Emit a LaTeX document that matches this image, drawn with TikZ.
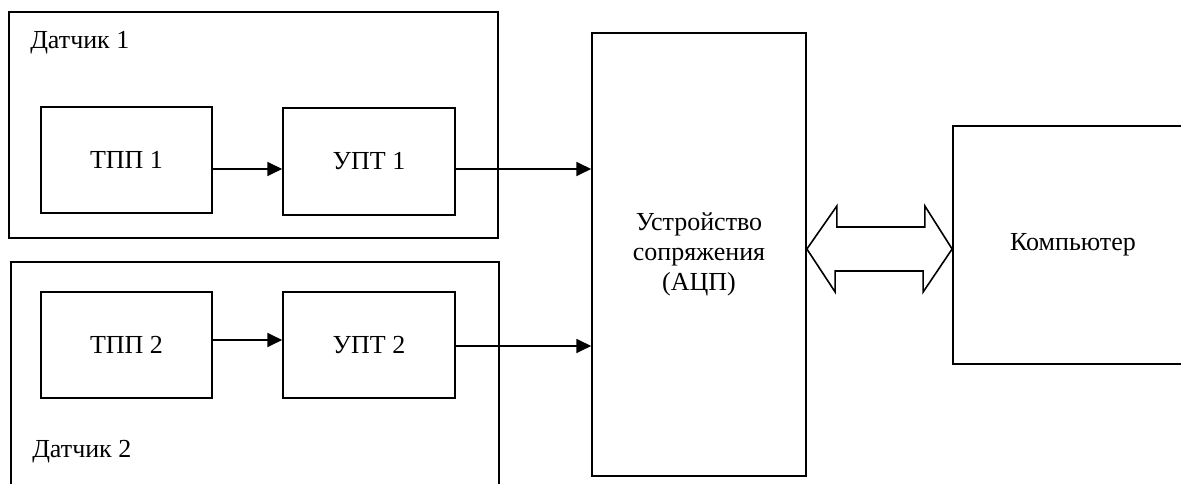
\documentclass[tikz,border=0pt]{standalone}
\usepackage{fontspec}
\setmainfont{Liberation Serif}
\usetikzlibrary{arrows.meta}

\begin{document}
\begin{tikzpicture}[x=0.75pt,y=0.75pt,yscale=-1,xscale=1,
  every node/.style={font=\fontsize{19.5}{22.5}\selectfont},
  grp/.style={draw,line width=1pt,inner sep=0pt},
  blk/.style={draw,line width=1.3pt,inner sep=0pt,align=center},
  sig/.style={line width=1pt,-{Triangle[length=11pt,width=10.5pt]}},
  lbl/.style={anchor=base west,inner sep=0pt}]
\useasboundingbox (0,0) rectangle (1181,484);
\clip (0,0) rectangle (1181,484);

%Shape: Rectangle -- sensor groups
\node[grp,minimum width=366.75pt,minimum height=169.5pt] (grp1) at (253.5,125) {};
\node[grp,minimum width=366pt,minimum height=193.5pt] (grp2) at (255,391) {};

% Text Node
\node[lbl] (lbl1) at (30,49) {Датчик 1};
% Text Node
\node[lbl] (lbl2) at (32,457) {Датчик 2};

%Shape: Rectangle -- converters and amplifiers
\node[blk,minimum width=128.25pt,minimum height=79.5pt] (tpp1) at (126.5,160) {ТПП 1};
\node[blk,minimum width=129pt,minimum height=80.25pt] (upt1) at (369,161.5) {УПТ 1};
\node[blk,minimum width=128.25pt,minimum height=79.5pt] (tpp2) at (126.5,345) {ТПП 2};
\node[blk,minimum width=129pt,minimum height=79.5pt] (upt2) at (369,345) {УПТ 2};

%Shape: Rectangle -- interface unit
\node[blk,minimum width=160.5pt,minimum height=332.25pt] (adc) at (699,254.5)
  {Устройство\\сопряжения\\(АЦП)};

%Shape: Rectangle -- computer
\node[blk,minimum width=180pt,minimum height=178.5pt] (pc) at (1073,245) {Компьютер};

%Straight Lines
\draw[sig] (tpp1.east |- 0,169) -- (upt1.west |- 0,169);
\draw[sig] (upt1.east |- 0,169) -- (adc.west |- 0,169);
\draw[sig] (tpp2.east |- 0,340) -- (upt2.west |- 0,340);
\draw[sig] (upt2.east |- 0,346) -- (adc.west |- 0,346);

%Shape: Double Arrow
\draw[line width=1.2pt,line join=miter] (adc.east |- 0,249) -- ++(30,-43) -- ++(0,21) -- ++(88,0) -- ++(0,-21)
  -- (pc.west |- 0,249) -- ++(-29,43) -- ++(0,-21) -- ++(-88,0) -- ++(0,21) -- cycle;

\end{tikzpicture}
\end{document}
